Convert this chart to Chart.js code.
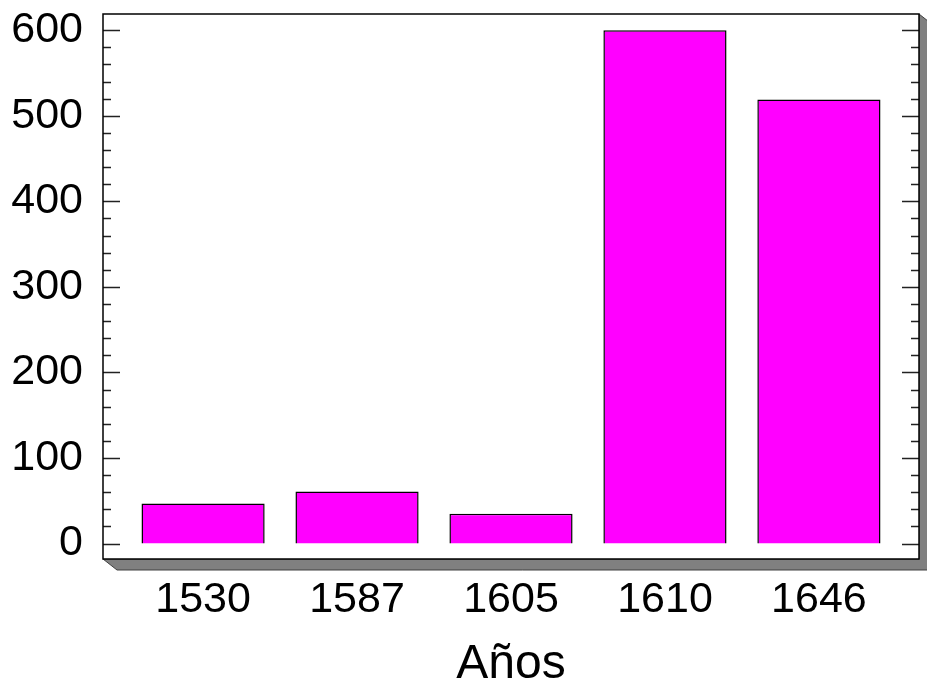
<!DOCTYPE html>
<html>
<head>
<meta charset="utf-8">
<script src="https://cdn.jsdelivr.net/npm/chart.js@4/dist/chart.umd.min.js"></script>
<style>
  html, body { margin: 0; padding: 0; background: #fff; }
  #wrap { width: 927px; height: 690px; }
</style>
</head>
<body>
<div id="wrap"><canvas id="chart"></canvas></div>
<script>
// datos
const years = ["1530", "1587", "1605", "1610", "1646"];
const values = [47, 61, 35, 600, 519];
const yTicks = [0, 100, 200, 300, 400, 500, 600];
const xTitle = "Años";

const FONT = "'Liberation Sans', Arial, sans-serif";

/* ===== marco con sombra y marcas de escala ===== */
const framePlugin = {
  id: "frame",
  beforeDatasetsDraw(chart) {
    const { ctx, chartArea: a } = chart;
    const dx = 14, dy = 11;
    ctx.save();
    // sombra gris (efecto 3D)
    ctx.fillStyle = "#808080";
    ctx.strokeStyle = "#404040";
    ctx.lineWidth = 1;
    ctx.beginPath();
    ctx.moveTo(a.right, a.top);
    ctx.lineTo(a.right + dx, a.top + dy);
    ctx.lineTo(a.right + dx, a.bottom + dy);
    ctx.lineTo(a.left + dx, a.bottom + dy);
    ctx.lineTo(a.left, a.bottom);
    ctx.lineTo(a.right, a.bottom);
    ctx.closePath();
    ctx.fill();
    ctx.stroke();
    ctx.fillStyle = "#fff";
    ctx.fillRect(a.left, a.top, a.right - a.left, a.bottom - a.top);

    // marcas mayores y menores, dentro del marco
    const y = chart.scales.y;
    ctx.strokeStyle = "#222";
    ctx.lineWidth = 1.5;
    for (let v = 0; v <= 600; v += 20) {
      const py = Math.round(y.getPixelForValue(v)) + 0.5;
      const len = v % 100 === 0 ? 17 : 8;
      ctx.beginPath();
      ctx.moveTo(a.left, py);
      ctx.lineTo(a.left + len, py);
      ctx.moveTo(a.right, py);
      ctx.lineTo(a.right - len, py);
      ctx.stroke();
    }
    // borde
    ctx.strokeStyle = "#000";
    ctx.lineWidth = 1.5;
    ctx.strokeRect(a.left, a.top, a.right - a.left, a.bottom - a.top);
    ctx.restore();
  },
};

const ctx = document.getElementById("chart").getContext("2d");

const chart = new Chart(ctx, {
  type: "bar",
  data: {
    datasets: [
      {
        data: years.map((_, i) => ({ x: i, y: values[i] })),
        backgroundColor: "#ff00ff",
        borderColor: "#000",
        borderWidth: 1.5,
        categoryPercentage: 1,
        barPercentage: 0.8,
      },
    ],
  },
  options: {
    responsive: true,
    maintainAspectRatio: false,
    animation: false,
    layout: { padding: { top: 14, right: 8, left: 0, bottom: 0 } },
    plugins: { legend: { display: false }, tooltip: { enabled: false } },
    scales: {
      x: {
        type: "linear",
        offset: false,
        min: -0.65,
        max: 4.65,
        afterBuildTicks: (s) => {
          s.ticks = years.map((_, i) => ({ value: i }));
        },
        afterFit: (s) => {
          s.height = 131;
          s.paddingLeft = 0;
          s.paddingRight = 0;
        },
        grid: { display: false, drawTicks: false },
        border: { display: false },
        ticks: {
          color: "#000",
          padding: 15,
          maxRotation: 0,
          autoSkip: false,
          font: { family: FONT, size: 43 },
          callback: (v) => years[v] ?? "",
        },
        title: {
          display: true,
          text: xTitle,
          color: "#000",
          padding: { top: 0, bottom: -4 },
          font: { family: FONT, size: 48 },
        },
      },
      y: {
        min: -18,
        max: 619,
        afterBuildTicks: (s) => {
          s.ticks = yTicks.map((v) => ({ value: v }));
        },
        afterFit: (s) => {
          s.width = 103;
          s.paddingTop = 0;
          s.paddingBottom = 0;
        },
        grid: { display: false, drawTicks: false },
        border: { display: false },
        ticks: {
          color: "#000",
          padding: 20,
          font: { family: FONT, size: 43 },
        },
      },
    },
  },
  plugins: [framePlugin],
});
</script>
</body>
</html>
